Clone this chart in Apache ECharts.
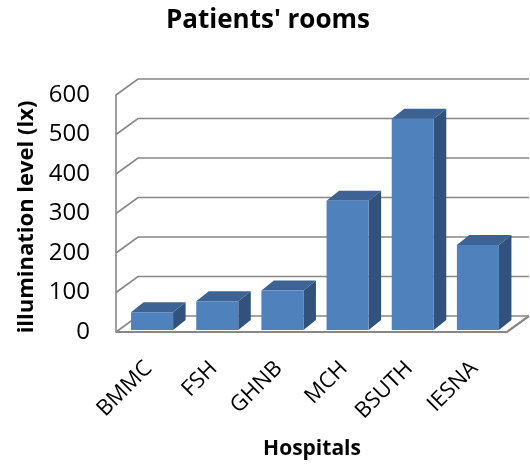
<!DOCTYPE html>
<html>
<head>
<meta charset="utf-8">
<script src="https://cdn.jsdelivr.net/npm/echarts@6/dist/echarts.min.js"></script>
<style>
  html, body { margin: 0; padding: 0; background: #fff; }
  #chart { width: 530px; height: 466px; }
</style>
</head>
<body>
<div id="chart"></div>
<script>
// Hospitals and measured illumination in patients' rooms
const hospitals = ['BMMC', 'FSH', 'GHNB', 'MCH', 'BSUTH', 'IESNA'];
const illuminance = [45, 73, 100, 327, 535, 215];
const yTicks = [0, 100, 200, 300, 400, 500, 600];

const FONT = '"Open Sans", "Liberation Sans", sans-serif';
const GRID_COLOR = '#878787';
// oblique depth of the box walls and of the bars
const WALL = { dx: 22, dy: -16 };
const BAR_FRONT = { dx: 3.5, dy: -2 };
const BAR_DEPTH = { dx: 12.5, dy: -10 };

const chart = echarts.init(document.getElementById('chart'));

// back wall, left wall and floor lines for each y tick
function renderWalls(params, api) {
  const v = api.value(0);
  const cs = params.coordSys;
  const y = api.coord([0, v])[1];
  const x0 = cs.x, x1 = cs.x + cs.width;
  const style = { stroke: GRID_COLOR, lineWidth: 1.6, fill: null };
  const children = [{
    type: 'polyline',
    shape: { points: [[x0, y], [x0 + WALL.dx, y + WALL.dy], [x1 + WALL.dx, y + WALL.dy]] },
    style: style
  }];
  if (v === 0) {
    children.push({
      type: 'polyline',
      shape: { points: [[x0, y], [x1, y], [x1 + WALL.dx, y + WALL.dy]] },
      style: { stroke: GRID_COLOR, lineWidth: 2.2, fill: null }
    });
  }
  return { type: 'group', children: children };
}

// a 3-D looking bar: front, top and right side
function renderBar(params, api) {
  const i = api.value(0);
  const top = api.coord([i, api.value(1)]);
  const base = api.coord([i, 0]);
  const w = api.size([1, 0])[0] * 0.645;
  const xl = top[0] - w / 2 + BAR_FRONT.dx;
  const xr = xl + w;
  const yt = top[1] + BAR_FRONT.dy;
  const yb = base[1] + BAR_FRONT.dy;
  const dx = BAR_DEPTH.dx, dy = BAR_DEPTH.dy;
  return {
    type: 'group',
    children: [
      {
        type: 'polygon',
        shape: { points: [[xr, yt], [xr + dx, yt + dy], [xr + dx, yb + dy], [xr, yb]] },
        style: { fill: '#30527c' }
      },
      {
        type: 'polygon',
        shape: { points: [[xl, yt], [xr, yt], [xr + dx, yt + dy], [xl + dx, yt + dy]] },
        style: { fill: '#3c6394' }
      },
      {
        type: 'rect',
        shape: { x: xl, y: yt, width: w, height: yb - yt },
        style: { fill: '#4f81bd' }
      }
    ]
  };
}

chart.setOption({
  animation: false,
  backgroundColor: '#fff',
  grid: { left: 116, right: 23, top: 95, bottom: 134 },
  xAxis: {
    type: 'category',
    data: hospitals,
    axisLine: { show: false },
    axisTick: { show: false },
    axisLabel: {
      rotate: 45, margin: 33, fontSize: 22, color: '#000', fontFamily: FONT,
      interval: 0
    }
  },
  yAxis: {
    type: 'value',
    min: 0, max: 600, interval: 100,
    axisLine: { show: true, lineStyle: { color: GRID_COLOR, width: 1.6 } },
    axisTick: { show: false },
    splitLine: { show: false },
    axisLabel: { fontSize: 24, margin: 26, color: '#000', fontFamily: FONT }
  },
  series: [
    {
      type: 'custom',
      renderItem: renderWalls,
      data: yTicks.map(v => [v]),
      encode: { y: 0 },
      clip: false,
      silent: true,
      z: 1
    },
    {
      type: 'custom',
      renderItem: renderBar,
      data: illuminance.map((v, i) => [i, v]),
      encode: { x: 0, y: 1 },
      clip: false,
      z: 2
    }
  ],
  graphic: [
    {
      type: 'text', x: 268, y: 21,
      style: {
        text: "Patients' rooms", font: 'bold 26px ' + FONT, fill: '#000',
        textAlign: 'center', textVerticalAlign: 'middle'
      }
    },
    {
      type: 'text', x: 27, y: 217, rotation: Math.PI / 2,
      style: {
        text: 'illumination level (lx)', font: 'bold 22px ' + FONT, fill: '#000',
        textAlign: 'center', textVerticalAlign: 'middle'
      }
    },
    {
      type: 'text', x: 312, y: 449,
      style: {
        text: 'Hospitals', font: 'bold 21px ' + FONT, fill: '#000',
        textAlign: 'center', textVerticalAlign: 'middle'
      }
    }
  ]
});
</script>
</body>
</html>
